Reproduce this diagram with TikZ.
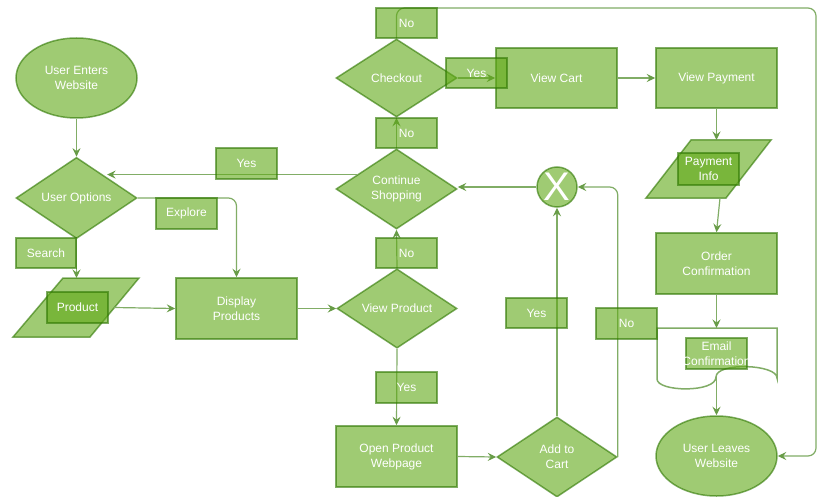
\documentclass[tikz,border=0pt]{standalone}
\usepackage{fontspec}
\setmainfont{Liberation Sans}
\usetikzlibrary{shapes.geometric,arrows.meta,calc}
\definecolor{gfill}{HTML}{60A917}
\definecolor{gline}{HTML}{2D7600}
\begin{document}
\begin{tikzpicture}[x=1pt,y=-1pt,
 base/.style={fill=gfill, fill opacity=0.6, draw=gline, draw opacity=0.6, line width=1.5pt, text=white, text opacity=1, font=\fontsize{12}{15}\selectfont, align=center, inner sep=0pt},
 proc/.style={base, rectangle, minimum width=121pt, minimum height=61pt},
 dec/.style={base, diamond, minimum width=121pt, minimum height=80pt},
 term/.style={base, ellipse, minimum width=121pt, minimum height=80pt},
 lbl/.style={base, rectangle, minimum width=61pt, minimum height=31pt},
 txt/.style={text=white, font=\fontsize{12}{15}\selectfont, align=center, inner sep=0pt},
 edge/.style={draw=gline!60, line width=1.2pt, -{Stealth[length=8.5pt,width=8pt,inset=3pt,color=gline!72]}, rounded corners=8pt},
]
\useasboundingbox[fill=white] (0,0) rectangle (826,497);

% shapes
\node[term] (ue) at (76.5,78) {User Enters\\Website};
\node[dec] (uo) at (76.5,198) {User Options};
\draw[base] (63,278) -- (139,278) -- (90,337) -- (13,337) -- cycle;
\coordinate (prodT) at (76.5,278);
\coordinate (prodR) at (114,307.5);
\node[proc] (dp) at (236.5,308.5) {Display\\Products};
\node[dec, minimum width=120pt, minimum height=79pt] (vp) at (397,308.5) {View Product};
\node[dec] (cs) at (396.5,189) {Continue\\Shopping};
\node[dec, minimum height=78pt] (co) at (396.5,78) {Checkout};
\node[proc, minimum height=60pt] (vc) at (556.5,78) {View Cart};
\node[proc, minimum height=60pt] (vpay) at (716.5,78) {View Payment};
\draw[base] (691,140) -- (771,140) -- (726,198) -- (646,198) -- cycle;
\coordinate (piT) at (716.5,140);
\coordinate (piB) at (720,198);
\node[proc] (oc) at (716.5,263.5) {Order\\Confirmation};
\draw[draw=gline, draw opacity=0.6, line width=1.5pt] (657,328) -- (777,328) -- (777,378) .. controls (777,364) and (716,362) .. (716,377) .. controls (716,393) and (657,392) .. (657,379) -- cycle;
\coordinate (docT) at (716.5,328);
\coordinate (docB) at (716.5,377);
\node[term] (ul) at (716.5,456) {User Leaves\\Website};
\node[proc] (op) at (396.5,456.5) {Open Product\\Webpage};
\node[dec, minimum width=120pt] (ac) at (557,457) {Add to\\Cart};
\node[base, circle, minimum size=40pt, font=\fontsize{40}{40}\selectfont] (xc) at (557,187) {X};
\coordinate (loop) at (816,8);

% connectors
\draw[edge] (ue.south) -- (uo.north);
\draw[edge] (uo.south) -- (prodT);
\draw[edge] (prodR) -- (dp.west);
\draw[edge] (uo.east) -| (dp.north);
\draw[edge] (dp.east) -- (vp.west);
\draw[edge] (vp.north) -- (cs.south);
\draw[edge] (cs.north) -- (co.south);
\draw[edge] (co.east) -- (vc.west);
\draw[edge] (vc.east) -- (vpay.west);
\draw[edge] (vpay.south) -- (piT);
\draw[edge] (piB) -- (oc.north);
\draw[edge] (oc.south) -- (docT);
\draw[edge] (docB) -- (ul.north);
\draw[edge] (co.north) |- (loop) |- (ul.east);
\draw[edge] (vp.south) -- (op.north);
\draw[edge] (op.east) -- (ac.west);
\draw[edge] (ac.north) -- (xc.south);
\draw[edge] (ac.east) |- (xc.east);
\draw[edge] (xc.west) -- (xc.west -| cs.east);
\draw[edge] (cs.160) -- (cs.160 -| uo.north east);

% labels
\node[lbl, minimum width=60pt, minimum height=30pt] (lSearch) at (46,253) {Search};
\node[lbl] (prodlbl) at (77.5,307.5) {Product};
\node[lbl] (lExplore) at (186.5,213.5) {Explore};
\node[lbl] (lYes4) at (246.5,163.5) {Yes};
\node[lbl, minimum height=30pt] (lNo1) at (406.5,253) {No};
\node[lbl, minimum height=30pt] (lNo2) at (406.5,133) {No};
\node[lbl, minimum height=30pt] (lNo3) at (406.5,23) {No};
\node[lbl, minimum height=30pt] (lYes1) at (476.5,73) {Yes};
\node[lbl] (lYes2) at (406.5,387.5) {Yes};
\node[lbl, minimum height=30pt] (lYes3) at (536.5,313) {Yes};
\node[lbl] (lNo4) at (626.5,323.5) {No};
\node[lbl, minimum height=32pt] (pilbl) at (708.5,169) {Payment\\Info};
\node[lbl] (doclbl) at (716.5,353.5) {};
\node[txt] at (doclbl) {Email\\Confirmation};
\end{tikzpicture}
\end{document}
